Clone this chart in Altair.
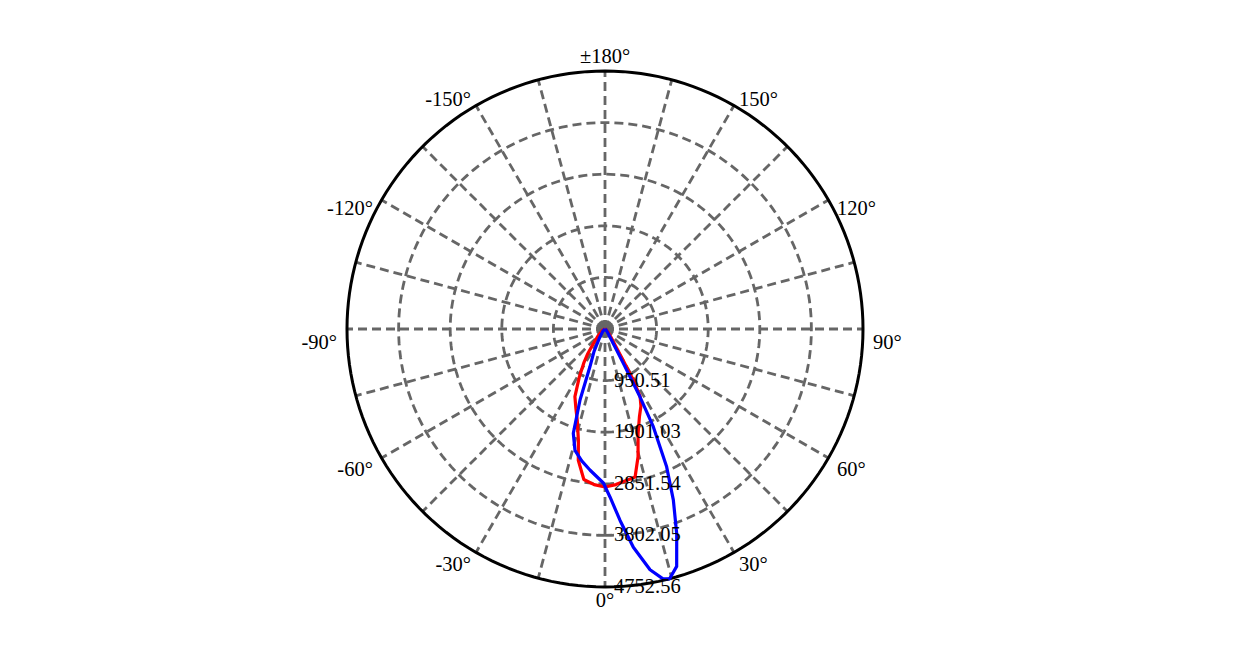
import altair as alt
import pandas as pd
import numpy as np

# ---------------- data ----------------
RMAX = 4752.56
ring_values = [950.51, 1901.03, 2851.54, 3802.05, 4752.56]
ring_labels = ["950.51", "1901.03", "2851.54", "3802.05", "4752.56"]
angle_ticks = [0, 30, 60, 90, 120, 150, 180, -150, -120, -90, -60, -30]
angle_labels = ["0°", "30°", "60°", "90°", "120°", "150°", "±180°",
                "-150°", "-120°", "-90°", "-60°", "-30°"]
spoke_angles = list(range(0, 360, 15))

# red curve (angle in degrees, intensity in cd)
red_angles = [-90, -60, -45, -38, -35, -32, -28, -24, -20, -17, -13.5, -11.5,
              -8, -4, 0, 4, 8, 11.5, 14.5, 17.5, 21.5, 25, 27.5, 29, 30, 32,
              36, 45, 60, 90]
red_values = [0, 55, 184, 368, 550, 737, 1013, 1363, 1566, 1750, 2100, 2468,
              2800, 2873, 2910, 2873, 2818, 2781, 2431, 2026, 1732, 1566, 1400,
              1068, 700, 368, 184, 74, 30, 0]

# blue curve
blue_angles = [-90, -45, -32, -26, -21.7, -19.4, -16.9, -13.9, -10, -6, -0.6,
               1.7, 4.5, 7.4, 10.6, 13, 14.5, 16.8, 19.3, 21.8, 24.1, 26.3,
               27.3, 28.1, 30, 35, 45, 90]
blue_values = [0, 55, 184, 460, 755, 1382, 2008, 2302, 2468, 2616, 2837,
               3095, 3537, 4053, 4513, 4720, 4752.56, 4568, 3997, 3389, 2781,
               2008, 1400, 718, 276, 92, 37, 0]

# ---------------- layout ----------------
W, H = 1200, 620
CX, CY = 597, 321
R = 258
FONT = "Liberation Serif"
FS = 20.5
GRID = "#666666"

xs = alt.Scale(domain=[-CX, W - CX], nice=False, zero=False)
ys = alt.Scale(domain=[-(H - CY), CY], nice=False, zero=False)


def X(f):
    return alt.X(f, type="quantitative", scale=xs, axis=None)


def Y(f):
    return alt.Y(f, type="quantitative", scale=ys, axis=None)


def px(expr_v):
    return f"({expr_v}) / {RMAX} * {R}"


# rings (inner dashed, outer solid)
ring_rows = []
for k, v in enumerate(ring_values):
    for t in range(0, 362, 2):
        ring_rows.append({"ring": k, "v": v, "t": t})
ring_df = pd.DataFrame(ring_rows)

ring_base = alt.Chart(ring_df).transform_calculate(
    x=f"{px('datum.v')} * sin(datum.t * PI / 180)",
    y=f"-{px('datum.v')} * cos(datum.t * PI / 180)",
)
inner_rings = ring_base.transform_filter(f"datum.v < {RMAX}").mark_line(
    stroke=GRID, strokeWidth=2.8, strokeDash=[9, 5]
).encode(x=X("x"), y=Y("y"), detail="ring:N", order="t:Q")
outer_ring = ring_base.transform_filter(f"datum.v >= {RMAX}").mark_line(
    stroke="black", strokeWidth=3
).encode(x=X("x"), y=Y("y"), order="t:Q")

# spokes
spoke_df = pd.DataFrame({"a": spoke_angles})
spokes = alt.Chart(spoke_df).transform_calculate(
    x0="0", y0="0",
    x1=f"{R} * sin(datum.a * PI / 180)",
    y1=f"-{R} * cos(datum.a * PI / 180)",
).mark_rule(stroke=GRID, strokeWidth=2.8, strokeDash=[9, 5]).encode(
    x=X("x0"), y=Y("y0"), x2="x1:Q", y2="y1:Q"
)


# curves
def curve(angles, values, color):
    df = pd.DataFrame({"a": angles, "v": values, "i": range(len(angles))})
    return alt.Chart(df).transform_calculate(
        x=f"{px('datum.v')} * sin(datum.a * PI / 180)",
        y=f"-{px('datum.v')} * cos(datum.a * PI / 180)",
    ).mark_line(stroke=color, strokeWidth=3.2, strokeJoin="round").encode(
        x=X("x"), y=Y("y"), order="i:Q"
    )


red = curve(red_angles, red_values, "#ff0000")
blue = curve(blue_angles, blue_values, "#0000ff")

# angle labels
lab_df = pd.DataFrame({"a": angle_ticks, "label": angle_labels})
lab_base = alt.Chart(lab_df).transform_calculate(
    s="sin(datum.a * PI / 180)",
    c="cos(datum.a * PI / 180)",
).transform_calculate(
    x=f"{R + 10} * datum.s",
    y=f"-({R + 14} * datum.c + 14 * datum.s * datum.s * (1 - datum.c))",
)
lab_right = lab_base.transform_filter("datum.s > 0.01").mark_text(
    align="left", baseline="middle", font=FONT, fontSize=FS, color="black"
).encode(x=X("x"), y=Y("y"), text="label:N")
lab_left = lab_base.transform_filter("datum.s < -0.01").mark_text(
    align="right", baseline="middle", font=FONT, fontSize=FS, color="black"
).encode(x=X("x"), y=Y("y"), text="label:N")
lab_mid = lab_base.transform_filter("abs(datum.s) <= 0.01").mark_text(
    align="center", baseline="middle", font=FONT, fontSize=FS, color="black"
).encode(x=X("x"), y=Y("y"), text="label:N")

# ring labels
rl_df = pd.DataFrame({"v": ring_values, "label": ring_labels})
ring_text = alt.Chart(rl_df).transform_calculate(
    x="9", y=f"-{px('datum.v')}"
).mark_text(
    align="left", baseline="middle", font=FONT, fontSize=FS, color="black"
).encode(x=X("x"), y=Y("y"), text="label:N")

chart = alt.layer(
    inner_rings, spokes, outer_ring, red, blue,
    lab_right, lab_left, lab_mid, ring_text
).properties(
    width=W, height=H, autosize=alt.AutoSizeParams(type="none"), padding=0
).configure_view(stroke=None)

chart.save("out.html", embed_options={"renderer": "svg", "actions": False})
